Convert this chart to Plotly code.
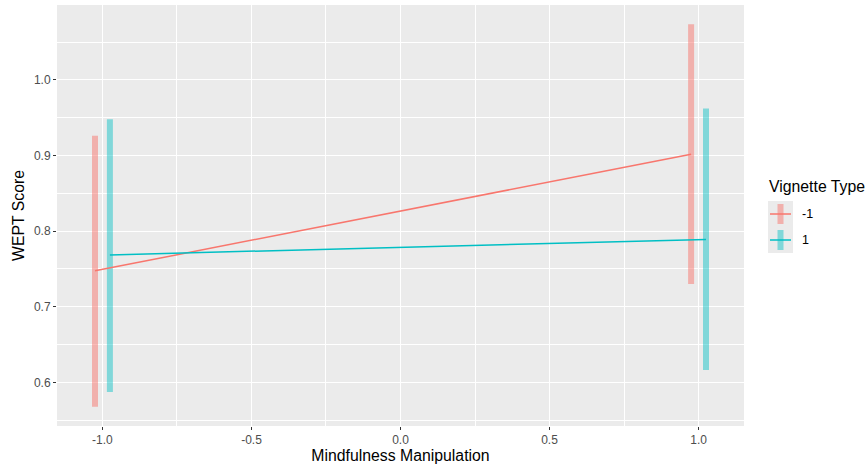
import plotly.graph_objects as go

# ---- data ----
manipulation = [-1, 1]
vignette_types = ["-1", "1"]
mean_neg = [0.7474, 0.9017]
lower_neg = [0.5675, 0.7300]
upper_neg = [0.9260, 1.0737]
mean_pos = [0.7685, 0.7890]
lower_pos = [0.5873, 0.6164]
upper_pos = [0.9480, 0.9620]
x_ticks = [-1.0, -0.5, 0.0, 0.5, 1.0]
x_tick_labels = ["-1.0", "-0.5", "0.0", "0.5", "1.0"]
y_ticks = [0.6, 0.7, 0.8, 0.9, 1.0]
y_tick_labels = ["0.6", "0.7", "0.8", "0.9", "1.0"]

colors = ["#F8766D", "#00BFC4"]
bar_colors = ["rgba(248,118,109,0.5)", "rgba(0,191,196,0.45)"]
dodge = [-0.025, 0.025]

series = [
    (mean_neg, lower_neg, upper_neg),
    (mean_pos, lower_pos, upper_pos),
]

fig = go.Figure()

# error bars first
for i, (m, lo, hi) in enumerate(series):
    xs = [x + dodge[i] for x in manipulation]
    fig.add_trace(go.Scatter(
        x=xs, y=m, mode="markers",
        marker=dict(size=1, color="rgba(0,0,0,0)"),
        error_y=dict(type="data", symmetric=False,
                     array=[h - v for h, v in zip(hi, m)],
                     arrayminus=[v - l for v, l in zip(m, lo)],
                     thickness=6, width=0, color=bar_colors[i]),
        showlegend=False, hoverinfo="skip"))

# lines on top
for i, (m, lo, hi) in enumerate(series):
    xs = [x + dodge[i] for x in manipulation]
    fig.add_trace(go.Scatter(
        x=xs, y=m, mode="lines",
        line=dict(color=colors[i], width=1.5),
        name=vignette_types[i], showlegend=False))

# ---- layout ----
W, H = 868, 467
L, R, T, B = 57, 744, 5, 426

def px(xp):
    return (xp - L) / (R - L)

def py(yp):
    return (B - yp) / (B - T)

fig.update_layout(
    width=W, height=H,
    margin=dict(l=L, r=W - R, t=T, b=H - B),
    paper_bgcolor="white",
    plot_bgcolor="#EBEBEB",
    font=dict(family="Liberation Sans, Arial, sans-serif"),
    showlegend=False,
)

fig.update_xaxes(
    range=[-1.1525, 1.1525],
    tickvals=x_ticks, ticktext=x_tick_labels,
    ticks="outside", ticklen=3, tickcolor="#333333", tickwidth=1,
    tickfont=dict(size=12, color="#4D4D4D"),
    showgrid=True, gridcolor="white", gridwidth=1.2,
    minor=dict(dtick=0.25, tick0=0, showgrid=True, gridcolor="white", gridwidth=0.6, ticks=""),
    zeroline=False, showline=False,
    title=dict(text="Mindfulness Manipulation", font=dict(size=15.8, color="black"), standoff=3),
)
fig.update_yaxes(
    range=[0.5422, 1.0990],
    tickvals=y_ticks, ticktext=y_tick_labels,
    ticks="outside", ticklen=3, tickcolor="#333333", tickwidth=1,
    tickfont=dict(size=12, color="#4D4D4D"),
    showgrid=True, gridcolor="white", gridwidth=1.2,
    minor=dict(dtick=0.05, tick0=0.55, showgrid=True, gridcolor="white", gridwidth=0.6, ticks=""),
    zeroline=False, showline=False,
    title=dict(text="WEPT Score", font=dict(size=15.8, color="black"), standoff=5),
)

# ---- custom legend (ggplot style) ----
shapes = []
annotations = []
annotations.append(dict(
    x=px(767), y=py(186), xref="paper", yref="paper",
    text="Vignette Type", showarrow=False, xanchor="left", yanchor="middle",
    font=dict(size=15.8, color="black")))
key_tops = [201, 227]
for i in range(2):
    top = key_tops[i]
    bot = top + 26
    cy = (top + bot) / 2
    shapes.append(dict(type="rect", xref="paper", yref="paper",
                       x0=px(768), x1=px(793), y0=py(bot), y1=py(top),
                       fillcolor="#EBEBEB", line=dict(width=0), layer="below"))
    shapes.append(dict(type="line", xref="paper", yref="paper",
                       x0=px(780.5), x1=px(780.5), y0=py(bot - 3), y1=py(top + 3),
                       line=dict(color=bar_colors[i], width=6)))
    shapes.append(dict(type="line", xref="paper", yref="paper",
                       x0=px(770), x1=px(791), y0=py(cy), y1=py(cy),
                       line=dict(color=colors[i], width=1.5)))
    annotations.append(dict(
        x=px(800), y=py(cy), xref="paper", yref="paper",
        text=vignette_types[i], showarrow=False, xanchor="left", yanchor="middle",
        font=dict(size=12.5, color="black")))

fig.update_layout(shapes=shapes, annotations=annotations)

fig.write_html("out.html")
